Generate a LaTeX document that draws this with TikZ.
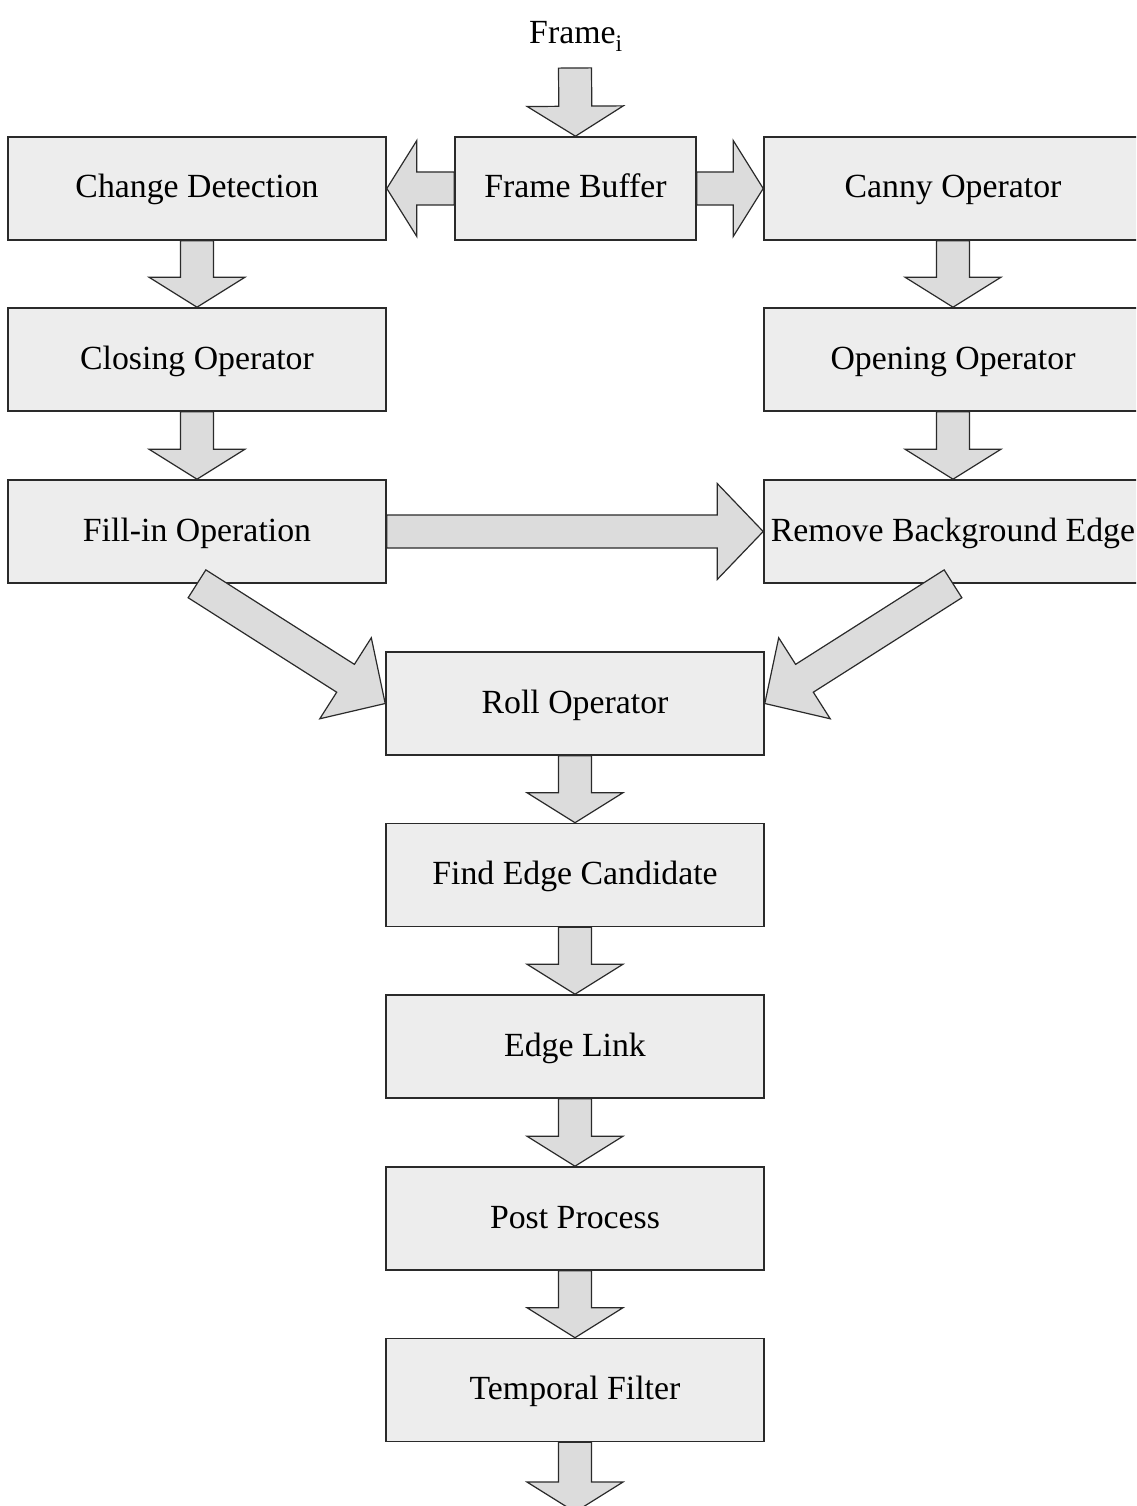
\documentclass[tikz,border=0pt]{standalone}
\usepackage{fontspec}
\setmainfont{Liberation Serif}
\usetikzlibrary{calc}
\definecolor{boxfill}{HTML}{EDEDED}
\definecolor{arrfill}{HTML}{DCDCDC}
\definecolor{edgecol}{HTML}{2A2A2A}
\tikzset{
  procbox/.style={draw=edgecol, line width=1.6pt, fill=boxfill, minimum width=378pt,
    minimum height=103pt, inner sep=0pt, text height=26pt, text depth=7pt,
    font=\fontsize{33.8}{40}\selectfont},
  barr/.style={draw=edgecol, line width=1.2pt, fill=arrfill, line join=miter},
  lbl/.style={inner sep=0pt, font=\fontsize{33.8}{40}\selectfont},
}
% \barrow[head length]{tail}{tip}
\newcommand\barrow[3][30pt]{%
  \coordinate (bah) at ($(#3)!#1!(#2)$);
  \draw[barr] ($(#2)!16.5pt!90:(#3)$) -- ($(bah)!16.5pt!90:(#3)$) --
    ($(bah)!48pt!90:(#3)$) -- (#3) -- ($(bah)!48pt!-90:(#3)$) --
    ($(bah)!16.5pt!-90:(#3)$) -- ($(#2)!16.5pt!-90:(#3)$) -- cycle;}
\begin{document}
\begin{tikzpicture}[x=1pt,y=-1pt]
\useasboundingbox (0,0) rectangle (1136,1506);
\fill[white] (0,0) rectangle (1136,1506);
\clip (0,0) rectangle (1136,1506);

\node[lbl, anchor=base west] (frm) at (529,44) {Frame\textsubscript{i}};
\coordinate (fin) at (575,68);
\coordinate (fout) at (575,1512);

\node[procbox] (cd) at (197,188.5) {Change Detection};
\node[procbox, minimum width=241pt] (fb) at (575.5,188.5) {Frame Buffer};
\node[procbox] (co) at (953,188.5) {Canny Operator};
\node[procbox] (cl) at (197,359.5) {Closing Operator};
\node[procbox] (op) at (953,359.5) {Opening Operator};
\node[procbox] (fi) at (197,531.5) {Fill-in Operation};
\node[procbox] (rb) at (953,531.5) {Remove Background Edge};
\node[procbox] (ro) at (575,703.5) {Roll Operator};
\node[procbox] (fe) at (575,875) {Find Edge Candidate};
\node[procbox] (el) at (575,1046.5) {Edge Link};
\node[procbox] (pp) at (575,1218.5) {Post Process};
\node[procbox] (tf) at (575,1390) {Temporal Filter};

\barrow{fin}{fb.north}
\barrow{fb.west}{cd.east}
\barrow{fb.east}{co.west}
\barrow{cd.south}{cl.north}
\barrow{cl.south}{fi.north}
\barrow{co.south}{op.north}
\barrow{op.south}{rb.north}
\barrow[46pt]{fi.east}{rb.west}
\barrow[47pt]{fi.south}{ro.west}
\barrow[47pt]{rb.south}{ro.east}
\barrow{ro.south}{fe.north}
\barrow{fe.south}{el.north}
\barrow{el.south}{pp.north}
\barrow{pp.south}{tf.north}
\barrow{tf.south}{fout}
\end{tikzpicture}
\end{document}
